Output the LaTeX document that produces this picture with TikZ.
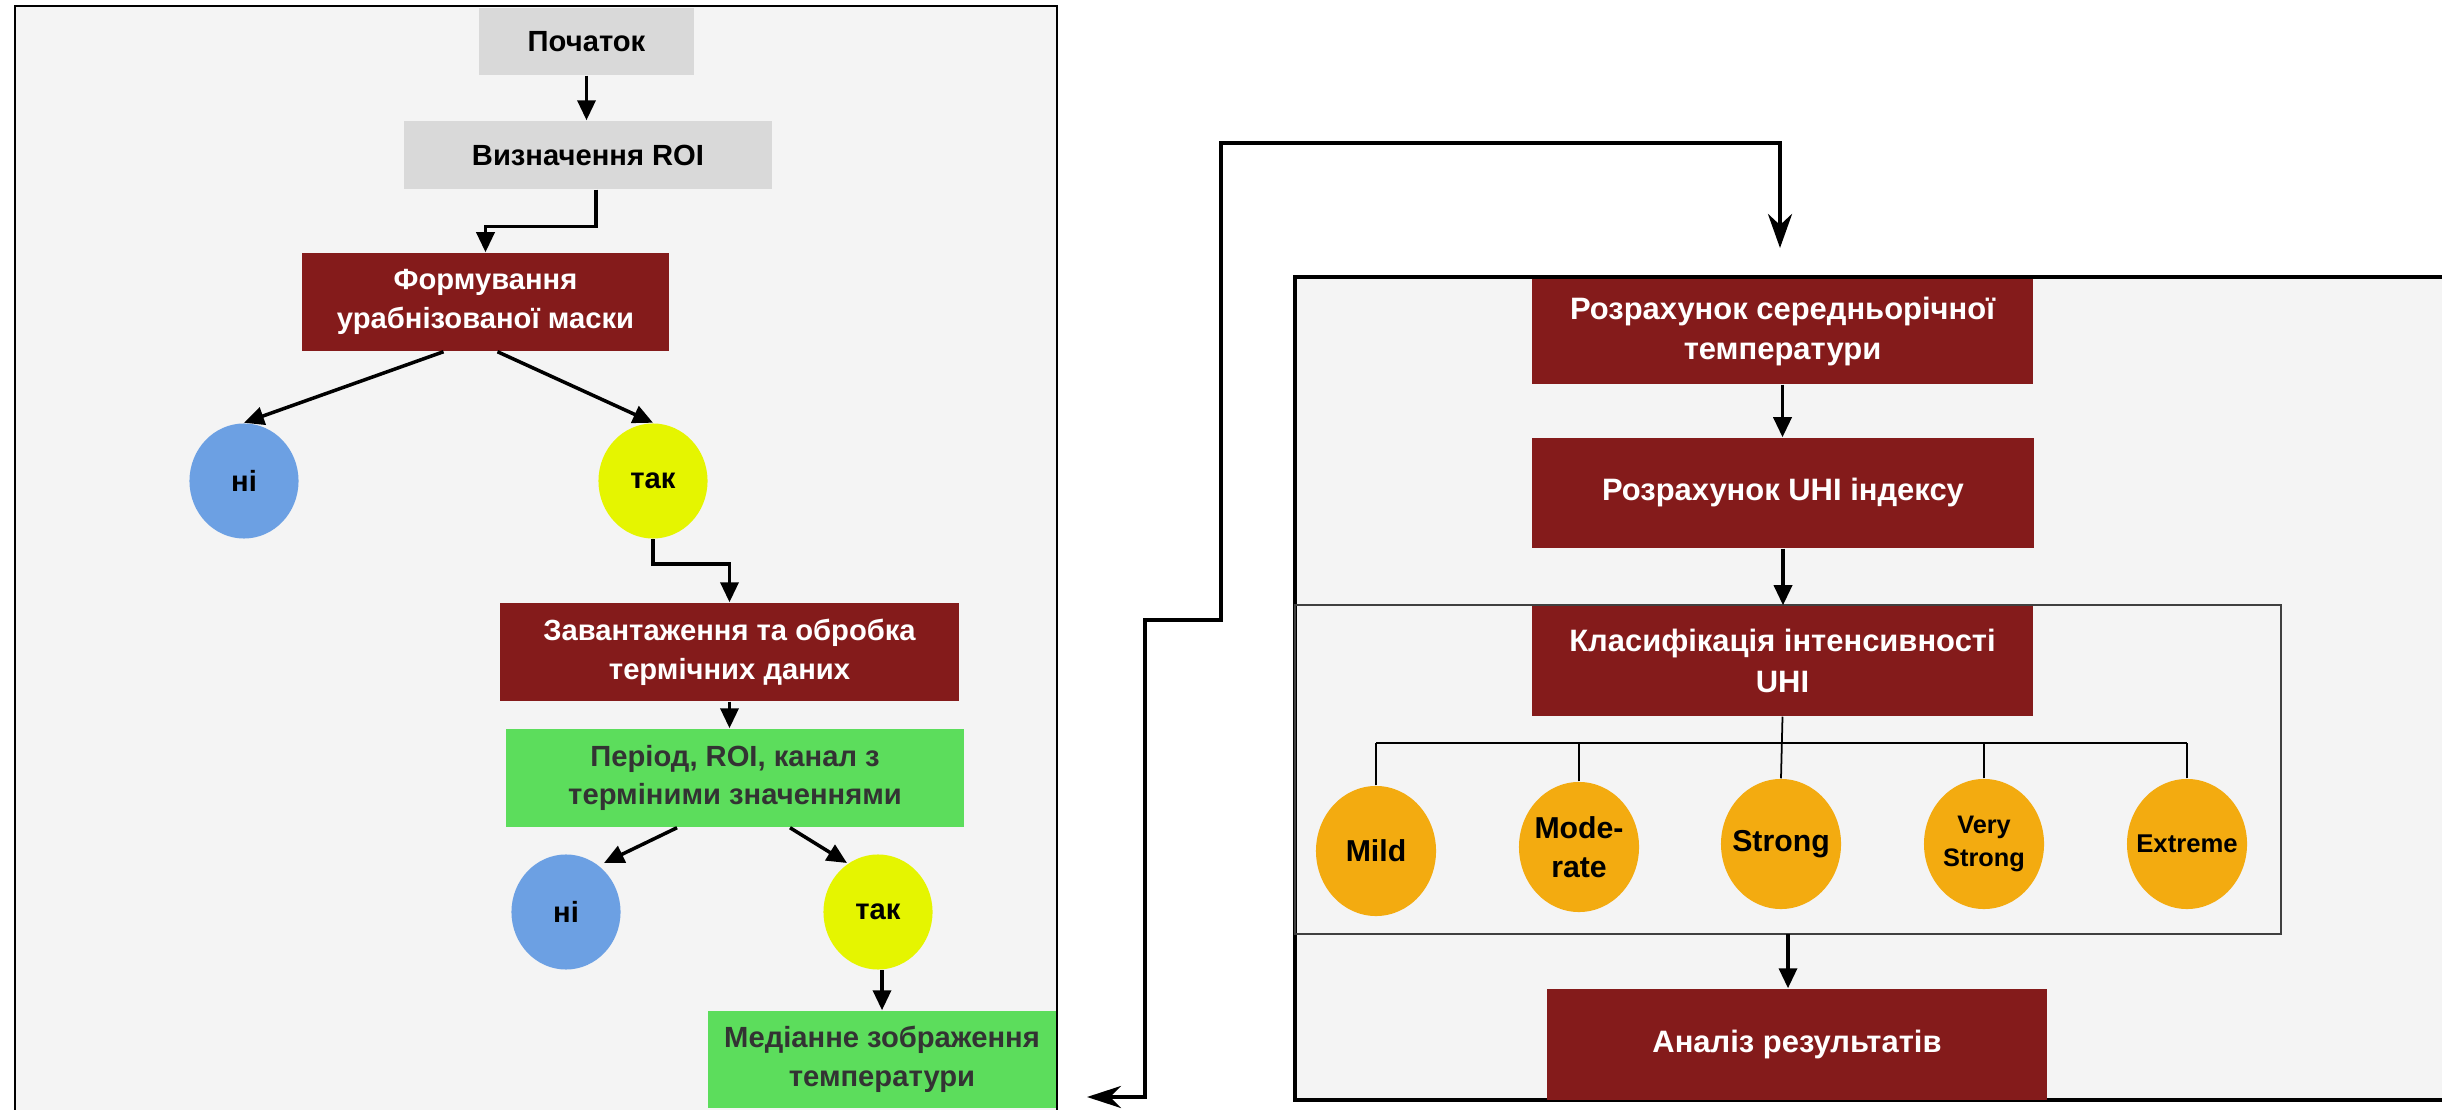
\documentclass[tikz,border=0pt]{standalone}
\usepackage{fontspec}
\setmainfont{Liberation Sans}
\usetikzlibrary{arrows.meta,shapes.geometric}
\definecolor{boxred}{HTML}{841B1B}
\definecolor{boxgray}{HTML}{D9D9D9}
\definecolor{boxgreen}{HTML}{5CDD5C}
\definecolor{panelbg}{HTML}{F4F4F4}
\definecolor{noblue}{HTML}{6CA0E3}
\definecolor{yesyellow}{HTML}{E5F500}
\definecolor{levelorange}{HTML}{F3AB10}
\definecolor{darktext}{HTML}{333333}

\begin{document}
\begin{tikzpicture}[x=0.01cm, y=-0.01cm,
	txt/.style={font=\fontsize{8.3}{11}\selectfont\bfseries, align=center, inner sep=0pt},
	bigtxt/.style={font=\fontsize{8.8}{11.5}\selectfont\bfseries},
	graybox/.style={txt, rectangle, fill=boxgray},
	redbox/.style={txt, rectangle, fill=boxred, text=white},
	greenbox/.style={txt, rectangle, fill=boxgreen, text=darktext},
	nocirc/.style={txt, ellipse, fill=noblue, minimum width=1.09cm, minimum height=1.15cm},
	yescirc/.style={txt, ellipse, fill=yesyellow, minimum width=1.09cm, minimum height=1.15cm},
	level/.style={txt, ellipse, fill=levelorange, inner xsep=-0.1cm, minimum width=1.2cm, minimum height=1.3cm, font=\fontsize{8.6}{11}\selectfont\bfseries},
	arr/.style={line width=1pt, -{Triangle[length=0.2cm, width=0.18cm]}},
	link/.style={line width=1.2pt, {Stealth[length=0.34cm, width=0.22cm]}-{Stealth[length=0.34cm, width=0.24cm]}},
	branch/.style={line width=0.5pt}
]
	\useasboundingbox (0,0) rectangle (2442,1110);
	\fill[white] (0,0) rectangle (2442,1110);

	% Left panel
	\fill[panelbg] (15,6) rectangle (1057,1110);
	\draw[line width=0.6pt] (15,1110) -- (15,6) -- (1057,6) -- (1057,1110);

	\node[graybox, minimum width=2.15cm, minimum height=0.67cm] (start) at (586.5,41.5) {Початок};
	\node[graybox, minimum width=3.68cm, minimum height=0.68cm] (roi) at (588,155) {Визначення ROI};
	\node[redbox, minimum width=3.67cm, minimum height=0.98cm] (mask) at (485.5,302) {Формування\\урабнізованої маски};
	\node[nocirc] (no1) at (244,481) {ні};
	\node[yescirc] (yes1) at (653,481) {так};
	\node[redbox, minimum width=4.59cm, minimum height=0.98cm] (load) at (729.5,652) {Завантаження та обробка\\термічних даних};
	\node[greenbox, minimum width=4.58cm, minimum height=0.98cm] (period) at (735,778) {Період, ROI, канал з\\терміними значеннями};
	\node[nocirc] (no2) at (566,912) {ні};
	\node[yescirc] (yes2) at (878,912) {так};
	\node[greenbox, minimum width=3.48cm, minimum height=0.97cm] (median) at (882,1059.5) {Медіанне зображення\\температури};

	\draw[arr] (start) -- (start |- roi.north);
	\draw[arr] ([shift={(8,0)}]roi.south) -- ++(0,37) -| (mask.north);
	\draw[arr] ([shift={(-42,0)}]mask.south) -- (no1.north);
	\draw[arr] ([shift={(12,0)}]mask.south) -- (yes1.north);
	\draw[arr] (yes1.south) -- ++(0,25) -| (load.north);
	\draw[arr] (load.south) -- (load.south |- period.north);
	\draw[arr] ([shift={(-58,0)}]period.south) -- ([shift={(38,-49)}]no2.center);
	\draw[arr] ([shift={(55,0)}]period.south) -- ([shift={(-31,-49)}]yes2.center);
	\draw[arr] ([shift={(4,0)}]yes2.south) -- ([shift={(4,0)}]yes2.south |- median.north);

	% Right panel
	\fill[panelbg] (1295,277) rectangle (2442,1100);
	\draw[line width=0.9pt] (2442,277) -- (1295,277) -- (1295,1100) -- (2442,1100);
	\draw[line width=0.6pt, black!75] (1295,605) rectangle (2281,934);
	\coordinate (grpbot) at (1788,934);

	\node[redbox, bigtxt, minimum width=5.01cm, minimum height=1.05cm] (mean) at (1782.5,331.5) {Розрахунок середньорічної\\температури};
	\node[redbox, bigtxt, minimum width=5.02cm, minimum height=1.1cm] (uhi) at (1783,493) {Розрахунок UHI індексу};
	\node[redbox, bigtxt, minimum width=5.01cm, minimum height=1.1cm] (cls) at (1782.5,661) {Класифікація інтенсивності\\UHI};
	\node[level] (mild) at (1376,851) {Mild};
	\node[level] (mod) at (1579,847) {Mode-\\rate};
	\node[level] (strong) at (1781,844) {Strong};
	\node[level, font=\fontsize{7.2}{9.5}\selectfont\bfseries] (vstrong) at (1984,844) {Very\\Strong};
	\node[level, font=\fontsize{7.3}{9}\selectfont\bfseries] (extreme) at (2187,844) {Extreme};
	\node[redbox, bigtxt, minimum width=5cm, minimum height=1.11cm] (an) at (1797,1044.5) {Аналіз результатів};

	\draw[arr] (mean) -- (mean.south |- uhi.north);
	\draw[arr] (uhi) -- (uhi.south |- cls.north);
	\coordinate (bar) at (1784,743);
	\draw[branch] (cls.south) -- (strong.north);
	\draw[line width=0.8pt] (mild.north |- bar) -- (extreme.north |- bar);
	\draw[branch] (mild.north) -- (mild.north |- bar);
	\draw[branch] (mod.north) -- (mod.north |- bar);
	\draw[branch] (vstrong.north) -- (vstrong.north |- bar);
	\draw[branch] (extreme.north) -- (extreme.north |- bar);
	\draw[arr] (grpbot) -- (grpbot |- an.north);

	% Link between panels
	\coordinate (medout) at (1087,1097);
	\coordinate (meanin) at (1780,248);
	\draw[link] (medout) -| (1145,620) -| (1221,143) -| (meanin);
\end{tikzpicture}
\end{document}
